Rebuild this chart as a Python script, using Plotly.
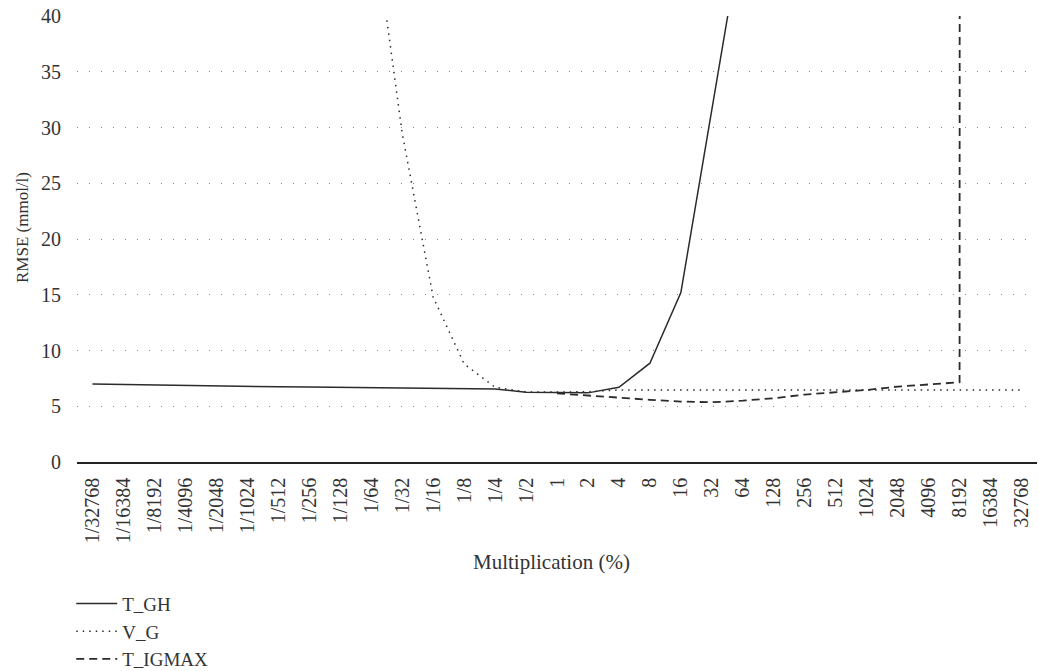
import plotly.graph_objects as go

categories = ["1/32768", "1/16384", "1/8192", "1/4096", "1/2048", "1/1024", "1/512",
              "1/256", "1/128", "1/64", "1/32", "1/16", "1/8", "1/4", "1/2", "1",
              "2", "4", "8", "16", "32", "64", "128", "256", "512", "1024", "2048",
              "4096", "8192", "16384", "32768"]

t_gh = [7.0, 6.95, 6.9, 6.86, 6.82, 6.78, 6.75, 6.72, 6.69, 6.66, 6.63, 6.6, 6.57, 6.55,
        6.25, 6.2, 6.2, 6.7, 8.86, 15.2, 31.6, 48.0, None, None, None, None, None,
        None, None, None, None]

v_g = [None, None, None, None, None, None, None, None, None, 50.0, 29.5, 14.8, 8.8,
       6.7, 6.28, 6.28, 6.3, 6.46, 6.46, 6.46, 6.46, 6.46, 6.46, 6.46, 6.46, 6.46,
       6.46, 6.46, 6.46, 6.46, 6.46]

t_igmax = [None, None, None, None, None, None, None, None, None, None, None, None,
           None, None, None, 6.15, 5.95, 5.78, 5.58, 5.42, 5.36, 5.5, 5.72, 6.05,
           6.25, 6.46, 6.76, 6.97, 7.15, 10000.0, None]

y_ticks = [0, 5, 10, 15, 20, 25, 30, 35, 40]

FONT = "'Liberation Serif', Tinos, 'Times New Roman', 'DejaVu Serif', serif"
INK = "#2b2b2b"
TXT = "#333333"

fig = go.Figure()
fig.add_trace(go.Scatter(x=categories, y=t_gh, name="T_GH", mode="lines",
                         line=dict(color=INK, width=1.5)))
fig.add_trace(go.Scatter(x=categories, y=v_g, name="V_G", mode="lines",
                         line=dict(color=INK, width=1.5, dash="1.5px,5px")))
fig.add_trace(go.Scatter(x=categories, y=t_igmax, name="T_IGMAX", mode="lines",
                         line=dict(color=INK, width=1.8, dash="8px,5px")))

fig.update_layout(
    width=1039, height=671,
    margin=dict(l=77, r=2, t=16, b=209, autoexpand=False),
    paper_bgcolor="white", plot_bgcolor="white",
    font=dict(family=FONT, size=20, color=TXT),
    showlegend=True,
    legend=dict(orientation="v", x=-0.006, y=-0.275, xanchor="left", yanchor="top",
                font=dict(family=FONT, size=19, color=TXT),
                bgcolor="rgba(0,0,0,0)", itemwidth=41, tracegroupgap=0),
    xaxis=dict(type="category", categoryorder="array", categoryarray=categories,
               tickmode="array", tickvals=categories, ticktext=categories,
               range=[-0.5, len(categories) - 0.5], automargin=False,
               tickangle=-90, showgrid=False, zeroline=False,
               showline=True, linecolor="#222222", linewidth=1.5,
               ticks="outside", ticklen=6, tickcolor="rgba(0,0,0,0)",
               tickfont=dict(family=FONT, size=20, color=TXT)),
    yaxis=dict(range=[0, 40], tickmode="array", tickvals=y_ticks, automargin=False,
               showgrid=True, gridcolor="#8a8a8a", gridwidth=1, griddash="1px,11px",
               zeroline=False, showline=False,
               ticks="outside", ticklen=11, tickcolor="rgba(0,0,0,0)",
               tickfont=dict(family=FONT, size=20, color=TXT)),
    annotations=[
        dict(text="RMSE (mmol/l)", xref="paper", yref="paper",
             x=(22 - 77) / 960, y=(462 - 228) / 446, xanchor="center", yanchor="middle",
             textangle=-90, showarrow=False,
             font=dict(family=FONT, size=17, color=TXT)),
        dict(text="Multiplication (%)", xref="paper", yref="paper",
             x=(551 - 77) / 960, y=(462 - 562) / 446, xanchor="center", yanchor="middle",
             showarrow=False, font=dict(family=FONT, size=21, color=TXT)),
    ],
)

fig.write_html("out.html")
